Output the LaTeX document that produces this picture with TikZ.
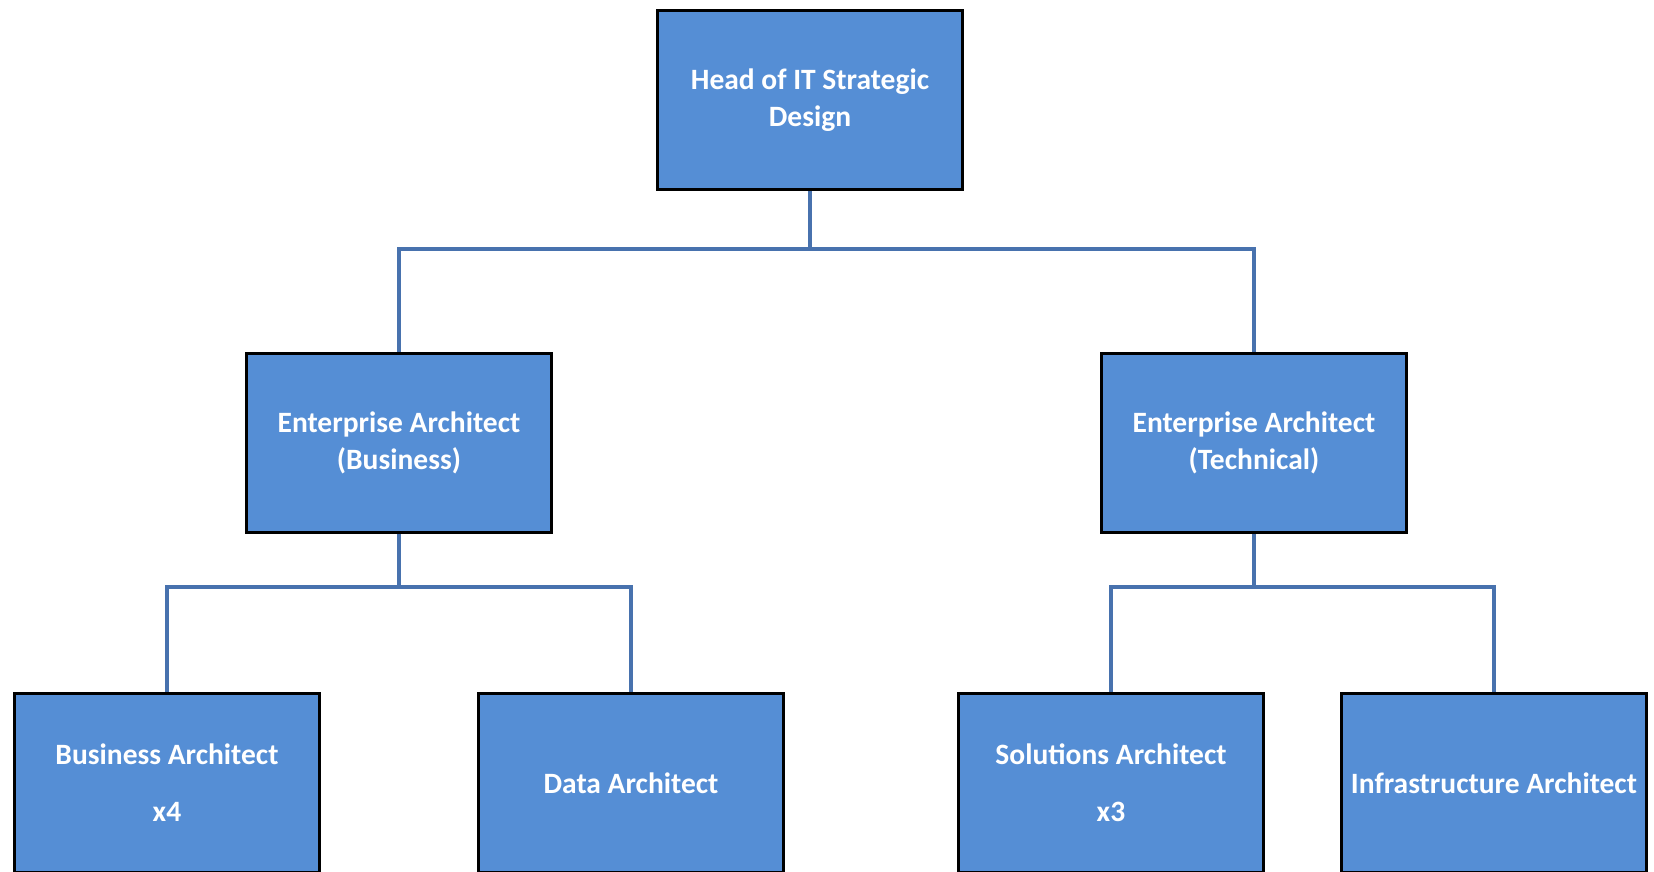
\documentclass[tikz,border=0pt]{standalone}
\usepackage{fontspec}
\setmainfont{Carlito}
\definecolor{boxblue}{RGB}{85,142,213}
\definecolor{lineblue}{RGB}{72,114,174}

\begin{document}
\begin{tikzpicture}[x=0.02cm,y=-0.02cm,
    role/.style={draw=black,line width=1.7pt,fill=boxblue,text=white,
        minimum width=6.1cm,minimum height=3.6cm,align=center,
        font=\bfseries\fontsize{16.8}{21}\selectfont},
    link/.style={draw=lineblue,line width=2.2pt}
    ]
    \useasboundingbox (0,0) rectangle (1654,872);
    \begin{scope}
    \clip (0,0) rectangle (1654,872);
    \node[role](head) at (810,100) {Head of IT Strategic\\Design};
    \node[role](entb) at (399,443) {Enterprise Architect\\(Business)};
    \node[role](entt) at (1254,443) {Enterprise Architect\\(Technical)};
    \node[role](busa) at (167,783) {Business Architect\\[0.4cm]x4};
    \node[role](data) at (631,783) {Data Architect};
    \node[role](sola) at (1111,783) {Solutions Architect\\[0.4cm]x3};
    \node[role](infa) at (1494,783) {Infrastructure Architect};
    \end{scope}
    \coordinate(top) at (810,249);
    \coordinate(lft) at (399,587);
    \coordinate(rgt) at (1254,587);
    \draw[link](head.south)--(top);
    \draw[link](entb.north)|-(top)-|(entt.north);
    \draw[link](entb.south)--(lft);
    \draw[link](busa.north)|-(lft)-|(data.north);
    \draw[link](entt.south)--(rgt);
    \draw[link](sola.north)|-(rgt)-|(infa.north);
\end{tikzpicture}
\end{document}
